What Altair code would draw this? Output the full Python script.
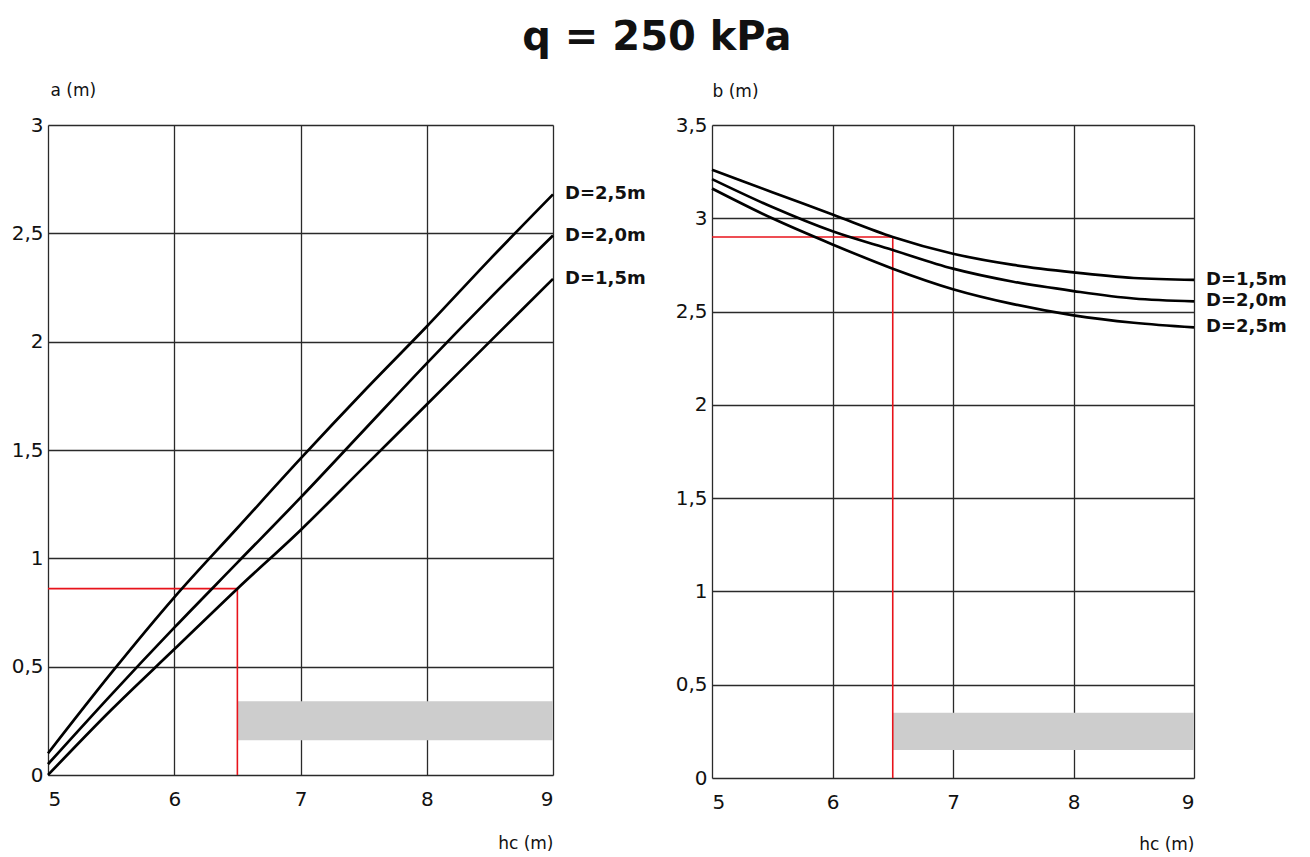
import altair as alt
import pandas as pd

hc = [5, 5.5, 6, 6.5, 7, 7.5, 8, 8.5, 9]
a_D25 = [0.10, 0.47, 0.82, 1.14, 1.46, 1.77, 2.07, 2.38, 2.68]
a_D20 = [0.05, 0.37, 0.68, 0.98, 1.28, 1.59, 1.90, 2.20, 2.49]
a_D15 = [0.00, 0.30, 0.58, 0.86, 1.13, 1.42, 1.71, 2.00, 2.29]

b_D15 = [3.26, 3.14, 3.02, 2.90, 2.81, 2.75, 2.71, 2.68, 2.67]
b_D20 = [3.21, 3.06, 2.93, 2.83, 2.73, 2.66, 2.61, 2.57, 2.555]
b_D25 = [3.16, 3.00, 2.86, 2.73, 2.62, 2.54, 2.48, 2.44, 2.415]

labels_a = ["D=2,5m", "D=2,0m", "D=1,5m"]
labels_b = ["D=1,5m", "D=2,0m", "D=2,5m"]

hc_pick = 6.5
a_pick = 0.86
b_pick = 2.90
band_a = [0.16, 0.34]
band_b = [0.15, 0.35]

FONT = "DejaVu Sans"
LBL = "replace(toString(datum.value), '.', ',')"


def make_panel(series, labels, ymax, ystep, ytitle, pick_y, band, w, h, xt_y, yt_x, yt_y):
    xs = alt.Scale(domain=[5, 9], nice=False, zero=False)
    ys = alt.Scale(domain=[0, ymax], nice=False, zero=False)
    yvals = [i * ystep for i in range(int(round(ymax / ystep)) + 1)]
    xaxis = alt.Axis(values=[5, 6, 7, 8, 9], title="hc (m)", grid=True,
                     gridColor="#2a2a2a", gridWidth=1.3, tickSize=0, labelPadding=14,
                     labelFontSize=20, labelFont=FONT, labelColor="#111",
                     domain=False, titleFont=FONT, titleFontSize=17,
                     titleFontWeight="normal", titleColor="#111",
                     titleAnchor="end", titleAlign="right", titleBaseline="middle",
                     titleX=w, titleY=xt_y, labelExpr=LBL)
    yaxis = alt.Axis(values=yvals, title=ytitle, grid=True,
                     gridColor="#2a2a2a", gridWidth=1.3, tickSize=0, labelPadding=5,
                     labelFontSize=20, labelFont=FONT, labelColor="#111",
                     domain=False, titleFont=FONT, titleFontSize=17,
                     titleFontWeight="normal", titleColor="#111",
                     titleAngle=0, titleAlign="left", titleBaseline="middle",
                     titleX=yt_x, titleY=yt_y, labelExpr=LBL)

    rows = []
    for vals, lab in zip(series, labels):
        for x, y in zip(hc, vals):
            rows.append({"hc": x, "v": y, "D": lab})
    df = pd.DataFrame(rows)
    ends = pd.DataFrame({"hc": [9] * 3, "v": [s[-1] for s in series], "D": labels})

    lines = alt.Chart(df).mark_line(color="black", strokeWidth=2.7,
                                    interpolate="monotone").encode(
        x=alt.X("hc:Q", scale=xs, axis=xaxis),
        y=alt.Y("v:Q", scale=ys, axis=yaxis),
        detail="D:N",
    )
    text = alt.Chart(ends).mark_text(align="left", dx=12, font=FONT, fontSize=18,
                                     fontWeight="bold", color="#111").encode(
        x=alt.X("hc:Q", scale=xs, axis=xaxis),
        y=alt.Y("v:Q", scale=ys, axis=yaxis),
        text="D:N",
    )
    band_df = pd.DataFrame({"x1": [hc_pick], "x2": [9], "y1": [band[0]], "y2": [band[1]]})
    rect = alt.Chart(band_df).mark_rect(color="#cdcdcd").encode(
        x=alt.X("x1:Q", scale=xs, axis=xaxis), x2="x2:Q",
        y=alt.Y("y1:Q", scale=ys, axis=yaxis), y2="y2:Q",
    )
    red_df = pd.DataFrame({"x1": [hc_pick, 5], "x2": [hc_pick, hc_pick],
                           "y1": [0, pick_y], "y2": [pick_y, pick_y]})
    red = alt.Chart(red_df).mark_rule(color="#e8131b", strokeWidth=1.6).encode(
        x=alt.X("x1:Q", scale=xs, axis=xaxis), x2="x2:Q",
        y=alt.Y("y1:Q", scale=ys, axis=yaxis), y2="y2:Q",
    )
    return alt.layer(rect, red, lines, text).properties(width=w, height=h)


left = make_panel([a_D25, a_D20, a_D15], labels_a, 3, 0.5, "a (m)", a_pick, band_a,
                  505, 650, 68, 2, -35)
right = make_panel([b_D15, b_D20, b_D25], labels_b, 3.5, 0.5, "b (m)", b_pick, band_b,
                   482, 653, 66, 0, -34)

chart = alt.hconcat(left, right, spacing=159, bounds="flush").properties(
    title=alt.TitleParams("q = 250 kPa", font=FONT, fontSize=40, fontWeight="bold",
                          color="#111", anchor="middle", offset=23, dx=8),
    padding={"left": 2, "top": 9, "right": 5, "bottom": 0},
).configure_view(stroke="#111", strokeWidth=1.5).configure(background="white")

chart.save("out.html", embed_options={"renderer": "svg", "actions": False})
